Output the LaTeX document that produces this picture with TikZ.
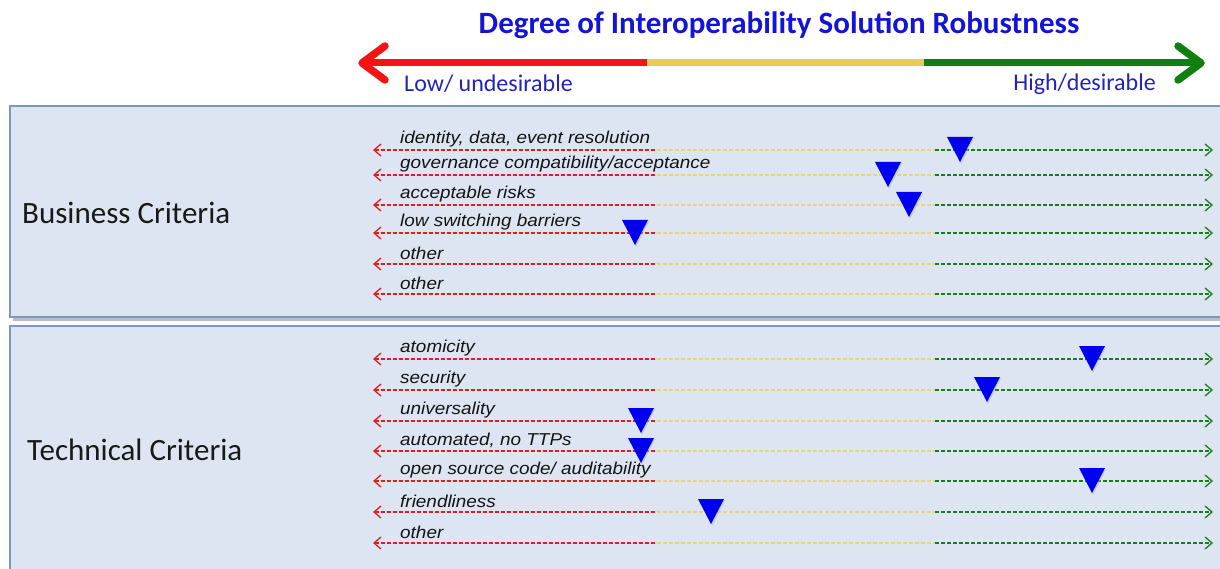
\documentclass[tikz,border=0pt]{standalone}
\usepackage{fontspec}
\setmainfont{Carlito}
\newfontfamily\labfont[FakeStretch=1.1]{Liberation Sans}
\usetikzlibrary{arrows.meta}
\definecolor{titleblue}{RGB}{20,20,215}
\definecolor{lblue}{RGB}{35,35,185}
\definecolor{panelfill}{RGB}{220,229,241}
\definecolor{paneledge}{RGB}{125,152,190}
\definecolor{shadowc}{RGB}{185,190,198}
\definecolor{bigred}{RGB}{245,20,20}
\definecolor{bigyellow}{RGB}{232,205,85}
\definecolor{biggreen}{RGB}{15,128,15}
\definecolor{dred}{RGB}{228,28,28}
\definecolor{dyellow}{RGB}{232,212,115}
\definecolor{dgreen}{RGB}{25,125,25}
\definecolor{tri}{RGB}{0,0,240}
\begin{document}
\begin{tikzpicture}[x=1pt,y=-1pt,
  panel/.style={draw=paneledge,fill=panelfill,line width=1.2pt},
  bigline/.style={line width=7pt},
  bighead/.style={line width=7.5pt,line cap=round,line join=round},
  seg/.style={line width=2.1pt,dash pattern=on 4pt off 2pt},
  tipl/.style={{Straight Barb[length=7pt,width=12pt,line width=1.3pt]}-},
  tipr/.style={-{Straight Barb[length=7pt,width=12pt,line width=1.3pt]}},
  rowlab/.style={anchor=west,inner sep=0pt,font=\labfont\itshape\fontsize{17.2}{19}\selectfont,text=black!92},
  crit/.style={anchor=west,inner sep=0pt,font=\fontsize{31}{36}\selectfont,text=black!90},
  scalelab/.style={inner sep=0pt,font=\fontsize{24}{28}\selectfont,text=lblue},
  marker/.style={fill=tri}
]
\useasboundingbox (0,0) rectangle (1220,569);
\fill[white] (0,0) rectangle (1220,569);

% title
\node[font=\bfseries\fontsize{31}{36}\selectfont,text=titleblue] (title) at (779,25) {Degree of Interoperability Solution Robustness};

% big scale arrow
\coordinate (bl) at (362,63);
\coordinate (b1) at (647,63);
\coordinate (b2) at (924,63);
\coordinate (br) at (1201,63);
\draw[bigline,bigyellow] (b1) -- (b2);
\draw[bigline,bigred] (b1) -- ([xshift=6pt]bl);
\draw[bigline,biggreen] (b2) -- ([xshift=-6pt]br);
\draw[bighead,bigred] ([shift={(23,-17)}]bl) -- (bl) -- ([shift={(23,17)}]bl);
\draw[bighead,biggreen] ([shift={(-23,-17)}]br) -- (br) -- ([shift={(-23,17)}]br);
\node[scalelab,anchor=west] (low) at (404,84) {Low/ undesirable};
\node[scalelab,anchor=east] (high) at (1156,84) {High/desirable};

% panels
\fill[shadowc] (13,110) rectangle (1222,321);
\draw[panel] (10,106) rectangle (1226,317);
\fill[shadowc] (13,330) rectangle (1222,575);
\draw[panel] (10,326) rectangle (1226,575);

\node[crit] (bus) at (22,213) {Business Criteria};
\node[crit] (tech) at (27,450) {Technical Criteria};

% rows
\foreach \n/\y/\lab in {
  b1/150/{identity, data, event resolution},
  b2/175/{governance compatibility/acceptance},
  b3/205/{acceptable risks},
  b4/233/{low switching barriers},
  b5/264/{other},
  b6/294/{other},
  t1/359/{atomicity},
  t2/390/{security},
  t3/421/{universality},
  t4/451/{automated, no TTPs},
  t5/481/{open source code/ auditability},
  t6/512/{friendliness},
  t7/543/{other}}{
  \coordinate (\n L) at (373,\y);
  \coordinate (\n R) at (657,\y);
  \coordinate (\n Y) at (935,\y);
  \coordinate (\n G) at (1213,\y);
  \draw[seg,dred,tipl] (\n L) -- (\n R);
  \draw[seg,dyellow] (\n R) -- (\n Y);
  \draw[seg,dgreen,tipr] (\n Y) -- (\n G);
  \node[rowlab] (\n lab) at (400,\y-11) {\lab};
}

% markers
\foreach \x/\y in {960/150, 888/175, 909/205, 635/233,
                   1092/359, 987/390, 641/421, 641/451, 1092/481, 711/512}{
  \fill[black!30,opacity=0.5] (\x-12,\y-12) -- (\x+14,\y-12) -- (\x+1,\y+14) -- cycle;
  \fill[marker] (\x-13,\y-13) -- (\x+13,\y-13) -- (\x,\y+12) -- cycle;
}
\end{tikzpicture}
\end{document}
